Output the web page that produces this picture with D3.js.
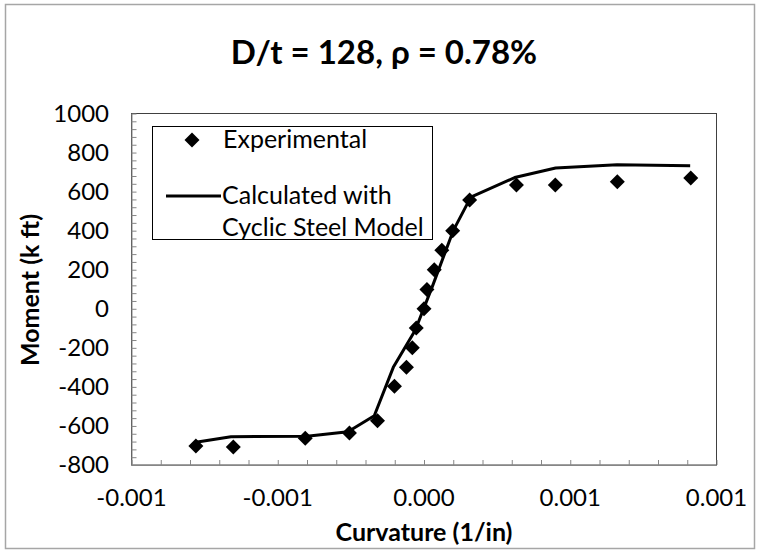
<!DOCTYPE html>
<html><head><meta charset="utf-8">
<script src="https://cdn.jsdelivr.net/npm/d3@7"></script>
<style>
html,body{margin:0;padding:0;background:#fff;}
svg{display:block;font-family:Lato,"Open Sans",sans-serif;}
</style></head>
<body><svg id="c" width="759" height="553"></svg>
<script>
// ---- data ----
const expCurvature = [-0.00078,-0.000652,-0.000406,-0.000255,-0.000159,-0.000101,-0.00006,-0.00004,-0.0000265,0.0,0.00001,0.000035,0.000061,0.000098,0.000156,0.000316,0.000449,0.000661,0.000912];
const expMoment    = [-703,-708,-663,-636,-573,-397,-300,-199,-98,0,99,200,300,399,557,634,634,651,670];
const calcCurvature = [-0.00078,-0.00066,-0.0004,-0.00026,-0.00017,-0.000105,-0.00003,0.00003,0.0001,0.00016,0.00031,0.00045,0.00066,0.00091];
const calcMoment    = [-683,-655,-653,-630,-548,-300,-110,120,400,572,672,721,738,733];
const xTicks = [-0.001,-0.0005,0,0.0005,0.001];
const xTickLabels = ["-0.001","-0.001","0.000","0.001","0.001"];
const yTicks = [-800,-600,-400,-200,0,200,400,600,800,1000];
const titleText = "D/t = 128, ρ = 0.78%";
const xTitle = "Curvature (1/in)";
const yTitle = "Moment (k ft)";
const legendLabels = ["Experimental", "Calculated with", "Cyclic Steel Model"];

// ---- layout ----
const svg = d3.select("#c");
const L = 131.5, R = 716.5, T = 113.5, B = 465;
const x = d3.scaleLinear().domain([-0.001,0.001]).range([L,R]);
const y = d3.scaleLinear().domain([-800,1000]).range([B,T]);

// chart border
svg.append("rect").attr("x",5.5).attr("y",4.5).attr("width",749).attr("height",544)
  .attr("fill","#fff").attr("stroke","#a6a6a6").attr("stroke-width",1.5);

// title
svg.append("text").attr("x",384).attr("y",64).attr("text-anchor","middle")
  .attr("font-weight","bold").attr("font-size",33).attr("fill","#000").text(titleText);

// plot border
svg.append("rect").attr("x",L).attr("y",T).attr("width",R-L).attr("height",B-T)
  .attr("fill","none").attr("stroke","#404040").attr("stroke-width",1);

// minor ticks
const xMinor = d3.range(-0.001,0.00100001,0.0001);
const yMinor = d3.range(-800,1000.1,40);
const grey = "#868686";
const xAxis = d3.axisBottom(x).tickValues(xMinor).tickSizeInner(-5).tickSizeOuter(0).tickFormat("");
svg.append("g").attr("transform",`translate(0,${B})`).call(xAxis)
  .call(g=>{g.select(".domain").attr("stroke",grey);g.selectAll("line").attr("stroke",grey);});
const yAxis = d3.axisLeft(y).tickValues(yMinor).tickSizeInner(-5).tickSizeOuter(0).tickFormat("");
svg.append("g").attr("transform",`translate(${L},0)`).call(yAxis)
  .call(g=>{g.select(".domain").attr("stroke",grey);g.selectAll("line").attr("stroke",grey);});

// tick labels
svg.append("g").selectAll("text").data(xTicks).join("text")
  .attr("x",d=>x(d)).attr("y",506).attr("text-anchor","middle")
  .attr("font-size",24).attr("fill","#000").text((d,i)=>xTickLabels[i]);
svg.append("g").selectAll("text").data(yTicks).join("text")
  .attr("x",109).attr("y",d=>y(d)).attr("dy","0.35em").attr("text-anchor","end")
  .attr("font-size",24).attr("fill","#000").text(d=>String(d));

// axis titles
svg.append("text").attr("x",424).attr("y",541).attr("text-anchor","middle")
  .attr("font-weight","bold").attr("font-size",25).attr("fill","#000").text(xTitle);
svg.append("text").attr("transform","translate(39,290) rotate(-90)").attr("text-anchor","middle")
  .attr("font-weight","bold").attr("font-size",25).attr("fill","#000").text(yTitle);

// calculated line
const calc = calcCurvature.map((c,i)=>[c,calcMoment[i]]);
svg.append("path").datum(calc)
  .attr("d",d3.line().x(d=>x(d[0])).y(d=>y(d[1])))
  .attr("fill","none").attr("stroke","#000").attr("stroke-width",3).attr("stroke-linejoin","round");

// experimental diamonds
const diamond = r => `M0,${-r}L${r},0L0,${r}L${-r},0Z`;
const exp = expCurvature.map((c,i)=>[c,expMoment[i]]);
svg.append("g").selectAll("path").data(exp).join("path")
  .attr("transform",d=>`translate(${x(d[0])},${y(d[1])})`)
  .attr("d",diamond(7.5)).attr("fill","#000");

// legend
const lg = svg.append("g");
lg.append("rect").attr("x",152.5).attr("y",126.5).attr("width",280).attr("height",113)
  .attr("fill","#fff").attr("stroke","#000").attr("stroke-width",1);
lg.append("path").attr("transform","translate(192,140)").attr("d",diamond(7.5)).attr("fill","#000");
lg.append("text").attr("x",223).attr("y",148).attr("font-size",25).attr("fill","#000").text(legendLabels[0]);
lg.append("line").attr("x1",166).attr("x2",221).attr("y1",196).attr("y2",196)
  .attr("stroke","#000").attr("stroke-width",3);
lg.append("text").attr("x",222).attr("y",204).attr("font-size",25).attr("fill","#000").text(legendLabels[1]);
lg.append("text").attr("x",222).attr("y",236).attr("font-size",25).attr("fill","#000").text(legendLabels[2]);
</script></body></html>
